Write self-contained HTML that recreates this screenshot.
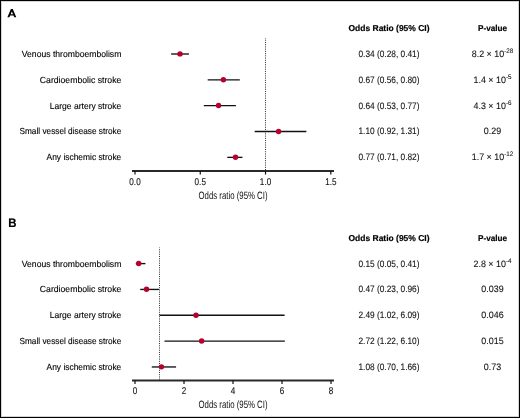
<!DOCTYPE html>
<html><head><meta charset="utf-8"><style>
html,body{margin:0;padding:0;background:#fff;}
.wrap{position:relative;width:520px;height:418px;box-sizing:border-box;border:1px solid #000;background:#fff;overflow:hidden;box-shadow:inset 0 0 0 1px #d4d4d4;}
svg{position:absolute;left:-1px;top:-1px;will-change:transform;}
text{font-family:"Liberation Sans",sans-serif;text-rendering:geometricPrecision;}
</style></head><body><div class="wrap">
<svg width="520" height="418" viewBox="0 0 520 418">
<path fill-rule="evenodd" fill="#000" d="M7.4 17.25 L10.9 8.95 L12.8 8.95 L16.25 17.25 L14.25 17.25 L13.52 15.5 L10.13 15.5 L9.4 17.25 Z M11.84 11.55 L13.02 14.2 L10.68 14.2 Z"/>
<text x="389" y="31.00" font-size="8.5" font-weight="bold" stroke="#000" stroke-width="0.18" text-anchor="middle" textLength="81" lengthAdjust="spacingAndGlyphs" fill="#000">Odds Ratio (95% CI)</text>
<text x="492.5" y="31.00" font-size="8.5" font-weight="bold" stroke="#000" stroke-width="0.18" text-anchor="middle" textLength="29" lengthAdjust="spacingAndGlyphs" fill="#000">P-value</text>
<line x1="265.53" y1="38.00" x2="265.53" y2="170.00" stroke="#2a2a2a" stroke-width="1" stroke-dasharray="1 1.23" stroke-dashoffset="0.5"/>
<text x="121.3" y="56.90" font-size="8.9" text-anchor="end" textLength="99.5" lengthAdjust="spacingAndGlyphs" fill="#000" stroke="#000" stroke-width="0.12">Venous thromboembolism</text>
<line x1="171.15" y1="54.00" x2="188.92" y2="54.00" stroke="#111" stroke-width="1.35"/>
<circle cx="180.00" cy="53.90" r="2.72" fill="#b8002c"/>
<text x="389" y="56.90" font-size="9.4" text-anchor="middle" textLength="61" lengthAdjust="spacingAndGlyphs" fill="#111" stroke="#111" stroke-width="0.1">0.34 (0.28, 0.41)</text>
<text x="492.5" y="56.90" font-size="9.4" text-anchor="middle" transform="translate(492.5 0) scale(0.95 1) translate(-492.5 0)" fill="#111" stroke="#111" stroke-width="0.1">8.2 × 10<tspan font-size="6.6" dy="-3.9">-28</tspan></text>
<text x="121.3" y="82.74" font-size="8.9" text-anchor="end" textLength="81.5" lengthAdjust="spacingAndGlyphs" fill="#000" stroke="#000" stroke-width="0.12">Cardioembolic stroke</text>
<line x1="207.70" y1="79.84" x2="239.82" y2="79.84" stroke="#111" stroke-width="1.35"/>
<circle cx="223.40" cy="79.74" r="2.72" fill="#b8002c"/>
<text x="389" y="82.74" font-size="9.4" text-anchor="middle" textLength="61" lengthAdjust="spacingAndGlyphs" fill="#111" stroke="#111" stroke-width="0.1">0.67 (0.56, 0.80)</text>
<text x="492.5" y="82.74" font-size="9.4" text-anchor="middle" transform="translate(492.5 0) scale(0.95 1) translate(-492.5 0)" fill="#111" stroke="#111" stroke-width="0.1">1.4 × 10<tspan font-size="6.6" dy="-3.9">-5</tspan></text>
<text x="121.3" y="108.58" font-size="8.9" text-anchor="end" textLength="71.5" lengthAdjust="spacingAndGlyphs" fill="#000" stroke="#000" stroke-width="0.12">Large artery stroke</text>
<line x1="203.78" y1="105.68" x2="235.91" y2="105.68" stroke="#111" stroke-width="1.35"/>
<circle cx="218.54" cy="105.58" r="2.72" fill="#b8002c"/>
<text x="389" y="108.58" font-size="9.4" text-anchor="middle" textLength="61" lengthAdjust="spacingAndGlyphs" fill="#111" stroke="#111" stroke-width="0.1">0.64 (0.53, 0.77)</text>
<text x="492.5" y="108.58" font-size="9.4" text-anchor="middle" transform="translate(492.5 0) scale(0.95 1) translate(-492.5 0)" fill="#111" stroke="#111" stroke-width="0.1">4.3 × 10<tspan font-size="6.6" dy="-3.9">-6</tspan></text>
<text x="121.3" y="134.42" font-size="8.9" text-anchor="end" textLength="101.8" lengthAdjust="spacingAndGlyphs" fill="#000" stroke="#000" stroke-width="0.12">Small vessel disease stroke</text>
<line x1="254.69" y1="131.52" x2="306.39" y2="131.52" stroke="#111" stroke-width="1.35"/>
<circle cx="278.58" cy="131.42" r="2.72" fill="#b8002c"/>
<text x="389" y="134.42" font-size="9.4" text-anchor="middle" textLength="61" lengthAdjust="spacingAndGlyphs" fill="#111" stroke="#111" stroke-width="0.1">1.10 (0.92, 1.31)</text>
<text x="492.5" y="134.42" font-size="9.4" text-anchor="middle" transform="translate(492.5 0) scale(0.95 1) translate(-492.5 0)" fill="#111" stroke="#111" stroke-width="0.1">0.29</text>
<text x="121.3" y="160.26" font-size="8.9" text-anchor="end" textLength="74.7" lengthAdjust="spacingAndGlyphs" fill="#000" stroke="#000" stroke-width="0.12">Any ischemic stroke</text>
<line x1="227.28" y1="157.36" x2="242.43" y2="157.36" stroke="#111" stroke-width="1.35"/>
<circle cx="235.51" cy="157.26" r="2.72" fill="#b8002c"/>
<text x="389" y="160.26" font-size="9.4" text-anchor="middle" textLength="61" lengthAdjust="spacingAndGlyphs" fill="#111" stroke="#111" stroke-width="0.1">0.77 (0.71, 0.82)</text>
<text x="492.5" y="160.26" font-size="9.4" text-anchor="middle" transform="translate(492.5 0) scale(0.95 1) translate(-492.5 0)" fill="#111" stroke="#111" stroke-width="0.1">1.7 × 10<tspan font-size="6.6" dy="-3.9">-12</tspan></text>
<line x1="132" y1="171.00" x2="334" y2="171.00" stroke="#2a2a2a" stroke-width="2.0"/>
<line x1="135.00" y1="171.00" x2="135.00" y2="174.50" stroke="#111" stroke-width="1.2"/>
<text x="135.00" y="184.60" font-size="9.8" text-anchor="middle" transform="translate(135.00 0) scale(0.83 1) translate(-135.00 0)" fill="#111" stroke="#111" stroke-width="0.12">0.0</text>
<line x1="200.26" y1="171.00" x2="200.26" y2="174.50" stroke="#111" stroke-width="1.2"/>
<text x="200.26" y="184.60" font-size="9.8" text-anchor="middle" transform="translate(200.26 0) scale(0.83 1) translate(-200.26 0)" fill="#111" stroke="#111" stroke-width="0.12">0.5</text>
<line x1="265.53" y1="171.00" x2="265.53" y2="174.50" stroke="#111" stroke-width="1.2"/>
<text x="265.53" y="184.60" font-size="9.8" text-anchor="middle" transform="translate(265.53 0) scale(0.83 1) translate(-265.53 0)" fill="#111" stroke="#111" stroke-width="0.12">1.0</text>
<line x1="330.80" y1="171.00" x2="330.80" y2="174.50" stroke="#111" stroke-width="1.2"/>
<text x="330.80" y="184.60" font-size="9.8" text-anchor="middle" transform="translate(330.80 0) scale(0.83 1) translate(-330.80 0)" fill="#111" stroke="#111" stroke-width="0.12">1.5</text>
<text x="233" y="198.60" font-size="10.6" text-anchor="middle" textLength="69" lengthAdjust="spacingAndGlyphs" fill="#111">Odds ratio (95% CI)</text>
<text x="8.3" y="227.15" font-size="12.3" font-weight="bold" fill="#000" stroke="#000" stroke-width="0.2" transform="translate(8.3 0) scale(0.93 1) translate(-8.3 0)">B</text>
<text x="389" y="240.60" font-size="8.5" font-weight="bold" stroke="#000" stroke-width="0.18" text-anchor="middle" textLength="81" lengthAdjust="spacingAndGlyphs" fill="#000">Odds Ratio (95% CI)</text>
<text x="492.5" y="240.60" font-size="8.5" font-weight="bold" stroke="#000" stroke-width="0.18" text-anchor="middle" textLength="29" lengthAdjust="spacingAndGlyphs" fill="#000">P-value</text>
<line x1="159.50" y1="247.60" x2="159.50" y2="379.60" stroke="#2a2a2a" stroke-width="1" stroke-dasharray="1 1.23" stroke-dashoffset="0.5"/>
<text x="121.3" y="266.50" font-size="8.9" text-anchor="end" textLength="99.5" lengthAdjust="spacingAndGlyphs" fill="#000" stroke="#000" stroke-width="0.12">Venous thromboembolism</text>
<line x1="135.82" y1="263.60" x2="145.44" y2="263.60" stroke="#111" stroke-width="1.35"/>
<circle cx="138.68" cy="263.50" r="2.72" fill="#b8002c"/>
<text x="389" y="266.50" font-size="9.4" text-anchor="middle" textLength="61" lengthAdjust="spacingAndGlyphs" fill="#111" stroke="#111" stroke-width="0.1">0.15 (0.05, 0.41)</text>
<text x="492.5" y="266.50" font-size="9.4" text-anchor="middle" transform="translate(492.5 0) scale(0.95 1) translate(-492.5 0)" fill="#111" stroke="#111" stroke-width="0.1">2.8 × 10<tspan font-size="6.6" dy="-3.9">-4</tspan></text>
<text x="121.3" y="292.34" font-size="8.9" text-anchor="end" textLength="81.5" lengthAdjust="spacingAndGlyphs" fill="#000" stroke="#000" stroke-width="0.12">Cardioembolic stroke</text>
<line x1="140.23" y1="289.44" x2="158.92" y2="289.44" stroke="#111" stroke-width="1.35"/>
<circle cx="146.51" cy="289.34" r="2.72" fill="#b8002c"/>
<text x="389" y="292.34" font-size="9.4" text-anchor="middle" textLength="61" lengthAdjust="spacingAndGlyphs" fill="#111" stroke="#111" stroke-width="0.1">0.47 (0.23, 0.96)</text>
<text x="492.5" y="292.34" font-size="9.4" text-anchor="middle" transform="translate(492.5 0) scale(0.95 1) translate(-492.5 0)" fill="#111" stroke="#111" stroke-width="0.1">0.039</text>
<text x="121.3" y="318.18" font-size="8.9" text-anchor="end" textLength="71.5" lengthAdjust="spacingAndGlyphs" fill="#000" stroke="#000" stroke-width="0.12">Large artery stroke</text>
<line x1="159.59" y1="315.28" x2="284.60" y2="315.28" stroke="#111" stroke-width="1.35"/>
<circle cx="196.00" cy="315.18" r="2.72" fill="#b8002c"/>
<text x="389" y="318.18" font-size="9.4" text-anchor="middle" textLength="61" lengthAdjust="spacingAndGlyphs" fill="#111" stroke="#111" stroke-width="0.1">2.49 (1.02, 6.09)</text>
<text x="492.5" y="318.18" font-size="9.4" text-anchor="middle" transform="translate(492.5 0) scale(0.95 1) translate(-492.5 0)" fill="#111" stroke="#111" stroke-width="0.1">0.046</text>
<text x="121.3" y="344.02" font-size="8.9" text-anchor="end" textLength="101.8" lengthAdjust="spacingAndGlyphs" fill="#000" stroke="#000" stroke-width="0.12">Small vessel disease stroke</text>
<line x1="164.49" y1="341.12" x2="284.85" y2="341.12" stroke="#111" stroke-width="1.35"/>
<circle cx="201.64" cy="341.02" r="2.72" fill="#b8002c"/>
<text x="389" y="344.02" font-size="9.4" text-anchor="middle" textLength="61" lengthAdjust="spacingAndGlyphs" fill="#111" stroke="#111" stroke-width="0.1">2.72 (1.22, 6.10)</text>
<text x="492.5" y="344.02" font-size="9.4" text-anchor="middle" transform="translate(492.5 0) scale(0.95 1) translate(-492.5 0)" fill="#111" stroke="#111" stroke-width="0.1">0.015</text>
<text x="121.3" y="369.86" font-size="8.9" text-anchor="end" textLength="74.7" lengthAdjust="spacingAndGlyphs" fill="#000" stroke="#000" stroke-width="0.12">Any ischemic stroke</text>
<line x1="151.75" y1="366.96" x2="176.07" y2="366.96" stroke="#111" stroke-width="1.35"/>
<circle cx="161.46" cy="366.86" r="2.72" fill="#b8002c"/>
<text x="389" y="369.86" font-size="9.4" text-anchor="middle" textLength="61" lengthAdjust="spacingAndGlyphs" fill="#111" stroke="#111" stroke-width="0.1">1.08 (0.70, 1.66)</text>
<text x="492.5" y="369.86" font-size="9.4" text-anchor="middle" transform="translate(492.5 0) scale(0.95 1) translate(-492.5 0)" fill="#111" stroke="#111" stroke-width="0.1">0.73</text>
<line x1="132" y1="380.60" x2="334" y2="380.60" stroke="#2a2a2a" stroke-width="2.0"/>
<line x1="135.00" y1="380.60" x2="135.00" y2="384.10" stroke="#111" stroke-width="1.2"/>
<text x="135.00" y="394.20" font-size="9.8" text-anchor="middle" transform="translate(135.00 0) scale(0.83 1) translate(-135.00 0)" fill="#111" stroke="#111" stroke-width="0.12">0</text>
<line x1="184.00" y1="380.60" x2="184.00" y2="384.10" stroke="#111" stroke-width="1.2"/>
<text x="184.00" y="394.20" font-size="9.8" text-anchor="middle" transform="translate(184.00 0) scale(0.83 1) translate(-184.00 0)" fill="#111" stroke="#111" stroke-width="0.12">2</text>
<line x1="233.00" y1="380.60" x2="233.00" y2="384.10" stroke="#111" stroke-width="1.2"/>
<text x="233.00" y="394.20" font-size="9.8" text-anchor="middle" transform="translate(233.00 0) scale(0.83 1) translate(-233.00 0)" fill="#111" stroke="#111" stroke-width="0.12">4</text>
<line x1="282.00" y1="380.60" x2="282.00" y2="384.10" stroke="#111" stroke-width="1.2"/>
<text x="282.00" y="394.20" font-size="9.8" text-anchor="middle" transform="translate(282.00 0) scale(0.83 1) translate(-282.00 0)" fill="#111" stroke="#111" stroke-width="0.12">6</text>
<line x1="331.00" y1="380.60" x2="331.00" y2="384.10" stroke="#111" stroke-width="1.2"/>
<text x="331.00" y="394.20" font-size="9.8" text-anchor="middle" transform="translate(331.00 0) scale(0.83 1) translate(-331.00 0)" fill="#111" stroke="#111" stroke-width="0.12">8</text>
<text x="233" y="408.20" font-size="10.6" text-anchor="middle" textLength="69" lengthAdjust="spacingAndGlyphs" fill="#111">Odds ratio (95% CI)</text>
</svg></div></body></html>
